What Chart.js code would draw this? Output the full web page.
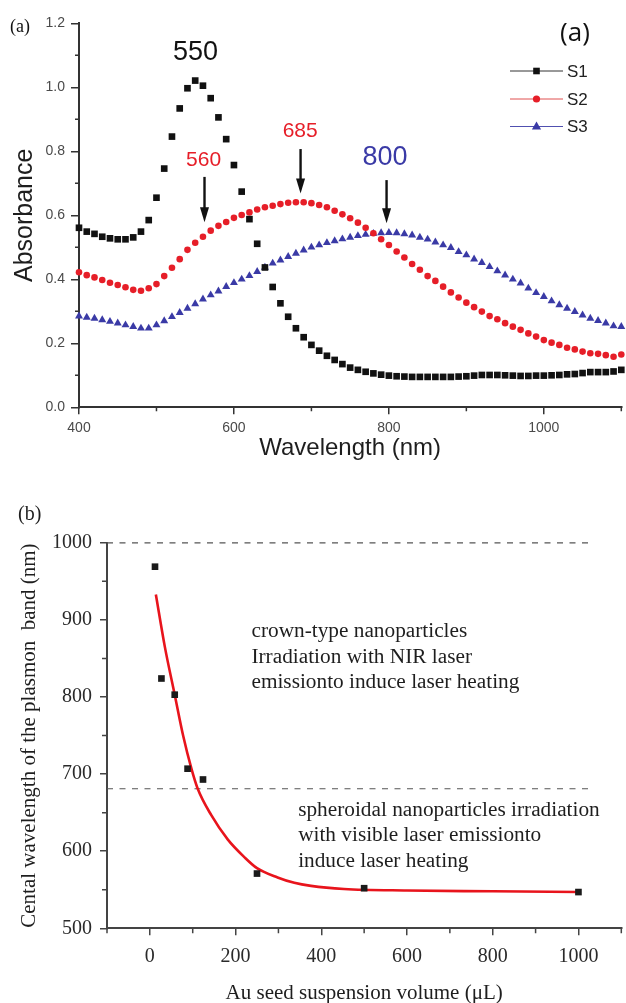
<!DOCTYPE html>
<html>
<head>
<meta charset="utf-8">
<script src="https://cdn.jsdelivr.net/npm/chart.js@4.4.0/dist/chart.umd.min.js"></script>
<style>
html,body{margin:0;padding:0;background:#fff;width:626px;height:1003px;overflow:hidden;position:relative}
canvas{position:absolute;left:0}
#c1{top:0}
#c2{top:475px}
</style>
</head>
<body>
<canvas id="c1" width="626" height="475"></canvas>
<canvas id="c2" width="626" height="545"></canvas>
<script>
// ---------------- Panel (a) data ----------------
const wavelengthNm = [400,410,420,430,440,450,460,470,480,490,500,510,520,530,540,550,560,570,580,590,600,610,620,630,640,650,660,670,680,690,700,710,720,730,740,750,760,770,780,790,800,810,820,830,840,850,860,870,880,890,900,910,920,930,940,950,960,970,980,990,1000,1010,1020,1030,1040,1050,1060,1070,1080,1090,1100];
const absorbanceS1 = [0.561,0.549,0.542,0.533,0.528,0.525,0.525,0.531,0.549,0.585,0.655,0.746,0.846,0.934,0.997,1.021,1.005,0.966,0.906,0.838,0.757,0.674,0.588,0.511,0.437,0.376,0.325,0.283,0.247,0.219,0.195,0.177,0.161,0.148,0.135,0.124,0.117,0.111,0.106,0.102,0.099,0.097,0.096,0.095,0.095,0.095,0.095,0.095,0.095,0.096,0.097,0.099,0.101,0.101,0.101,0.100,0.099,0.098,0.098,0.099,0.099,0.100,0.101,0.103,0.104,0.107,0.110,0.110,0.110,0.112,0.117];
const absorbanceS2 = [0.422,0.413,0.406,0.398,0.389,0.382,0.375,0.367,0.364,0.372,0.385,0.410,0.436,0.463,0.492,0.514,0.533,0.552,0.567,0.579,0.592,0.601,0.609,0.618,0.625,0.630,0.635,0.639,0.641,0.641,0.638,0.632,0.625,0.614,0.603,0.591,0.577,0.561,0.544,0.525,0.507,0.487,0.468,0.448,0.430,0.410,0.395,0.377,0.359,0.343,0.327,0.313,0.299,0.285,0.275,0.263,0.252,0.242,0.231,0.221,0.210,0.202,0.195,0.186,0.181,0.174,0.169,0.167,0.163,0.158,0.165];
const absorbanceS3 = [0.285,0.281,0.278,0.273,0.268,0.263,0.257,0.252,0.247,0.247,0.257,0.270,0.283,0.296,0.309,0.323,0.338,0.351,0.363,0.377,0.389,0.400,0.411,0.424,0.437,0.450,0.460,0.471,0.481,0.491,0.500,0.507,0.514,0.520,0.526,0.531,0.536,0.540,0.543,0.545,0.546,0.545,0.542,0.538,0.531,0.525,0.516,0.507,0.499,0.486,0.476,0.463,0.452,0.439,0.426,0.413,0.400,0.388,0.372,0.358,0.346,0.332,0.320,0.309,0.299,0.288,0.278,0.271,0.263,0.254,0.252];
const seriesNames = ['S1','S2','S3'];
const peakWavelengths = ['550','560','685','800'];
const absYTicks = [0,0.2,0.4,0.6,0.8,1.0,1.2];
const absYMinor = [0.1,0.3,0.5,0.7,0.9,1.1];
const wlXTicks = [400,600,800,1000];
const wlXMinor = [500,700,900,1100];

// ---------------- Panel (b) data ----------------
const seedVolume = [12,27,58,88,124,250,500,1000];
const plasmonWl = [969,824,803,707,693,571,552,547];
const fitVolume = [14,35,58,78,97,111,143,182,221,250,298,337,376,453,600,800,1000];
const fitWl = [933,865,803,749,707,682,647,615,592,578,566,559,555,551,549,548,547];
const volXTicks = [0,200,400,600,800,1000];
const volXMinor = [-100,100,300,500,700,900,1100];
const wlYTicks = [500,600,700,800,900,1000];
const wlYMinor = [550,650,750,850,950];
const regionBoundaries = [1000,681];
const boundaryVolRange = [-100,1027];
const regionTexts = [
  ['crown-type nanoparticles','Irradiation with NIR laser','emissionto induce laser heating'],
  ['spheroidal nanoparticles irradiation','with visible laser emissionto','induce laser heating']
];

Chart.defaults.animation = false;
Chart.defaults.font.family = '"Liberation Sans", Arial, sans-serif';

const SANS = '"Liberation Sans", Arial, sans-serif';
const SERIF = '"Liberation Serif", "Times New Roman", serif';
const RED = '#e61e28';
const BLUE = '#3a3aa6';

function minorTickPlugin(id){
  return {
    id: id,
    afterDraw(chart, args, opts){
      const ctx = chart.ctx, xs = chart.scales.x, ys = chart.scales.y;
      ctx.save();
      ctx.strokeStyle = opts.color; ctx.lineWidth = opts.width;
      ctx.beginPath();
      opts.x.forEach(v => { const px = xs.getPixelForValue(v); ctx.moveTo(px, xs.top); ctx.lineTo(px, xs.top + opts.len); });
      opts.y.forEach(v => { const py = ys.getPixelForValue(v); ctx.moveTo(ys.right, py); ctx.lineTo(ys.right - opts.len, py); });
      ctx.stroke();
      ctx.restore();
    }
  };
}

// ---------- Panel (a) annotations ----------
const annotA = {
  id: 'annotA',
  afterDraw(chart){
    const ctx = chart.ctx, xs = chart.scales.x, ys = chart.scales.y;
    ctx.save();
    ctx.fillStyle = '#111';
    ctx.font = '18px ' + SERIF; ctx.textAlign = 'left'; ctx.textBaseline = 'middle';
    ctx.fillText('(a)', 10, 27);
    ctx.font = '26px "Open Sans", ' + SANS; ctx.textAlign = 'center';
    ctx.fillText('(a)', 575, 34);
    const notes = [
      {t: peakWavelengths[0], x: 550.5, y: 1.11, c: '#111', s: 27},
      {t: peakWavelengths[1], x: 560.8, y: 0.773, c: RED, s: 21},
      {t: peakWavelengths[2], x: 685.5, y: 0.864, c: RED, s: 21},
      {t: peakWavelengths[3], x: 795, y: 0.779, c: BLUE, s: 27}
    ];
    notes.forEach(n => {
      ctx.fillStyle = n.c; ctx.font = n.s + 'px ' + SANS;
      ctx.textAlign = 'center'; ctx.textBaseline = 'middle';
      ctx.fillText(n.t, xs.getPixelForValue(n.x), ys.getPixelForValue(n.y));
    });
    const arrows = [{x: 562, y0: 0.72, y1: 0.578}, {x: 686, y0: 0.807, y1: 0.668}, {x: 797, y0: 0.71, y1: 0.575}];
    ctx.strokeStyle = '#111'; ctx.fillStyle = '#111'; ctx.lineWidth = 2.4;
    arrows.forEach(a => {
      const px = xs.getPixelForValue(a.x), p0 = ys.getPixelForValue(a.y0), p1 = ys.getPixelForValue(a.y1);
      ctx.beginPath(); ctx.moveTo(px, p0); ctx.lineTo(px, p1 - 10); ctx.stroke();
      ctx.beginPath(); ctx.moveTo(px, p1); ctx.lineTo(px - 4.5, p1 - 15); ctx.lineTo(px + 4.5, p1 - 15); ctx.closePath(); ctx.fill();
    });
    const rows = [
      {name: seriesNames[0], line: '#333', fill: '#111', shape: 'rect'},
      {name: seriesNames[1], line: '#e05050', fill: RED, shape: 'circle'},
      {name: seriesNames[2], line: '#5050b0', fill: BLUE, shape: 'tri'}
    ];
    const ly = [71, 99, 126.5];
    rows.forEach((r, i) => {
      const y = ly[i];
      ctx.strokeStyle = r.line; ctx.lineWidth = 1;
      ctx.beginPath(); ctx.moveTo(510, y); ctx.lineTo(563, y); ctx.stroke();
      ctx.fillStyle = r.fill;
      const cx = 536.5;
      if (r.shape === 'rect') ctx.fillRect(cx - 3.3, y - 3.3, 6.6, 6.6);
      else if (r.shape === 'circle') { ctx.beginPath(); ctx.arc(cx, y, 3.6, 0, Math.PI * 2); ctx.fill(); }
      else { ctx.beginPath(); ctx.moveTo(cx, y - 5); ctx.lineTo(cx + 4.6, y + 3); ctx.lineTo(cx - 4.6, y + 3); ctx.closePath(); ctx.fill(); }
      ctx.fillStyle = '#222'; ctx.font = '17px ' + SANS; ctx.textAlign = 'left'; ctx.textBaseline = 'middle';
      ctx.fillText(r.name, 567, y + 1);
    });
    ctx.restore();
  }
};

const toPts = (xs, ys) => xs.map((x, i) => ({x: x, y: ys[i]}));

new Chart(document.getElementById('c1'), {
  type: 'scatter',
  data: {
    datasets: [
      {label: seriesNames[0], data: toPts(wavelengthNm, absorbanceS1), pointStyle: 'rect', pointRadius: 4.7, backgroundColor: '#111', borderColor: '#111', borderWidth: 0, clip: false},
      {label: seriesNames[1], data: toPts(wavelengthNm, absorbanceS2), pointStyle: 'circle', pointRadius: 3.3, backgroundColor: RED, borderColor: RED, borderWidth: 0, clip: false},
      {label: seriesNames[2], data: toPts(wavelengthNm, absorbanceS3), pointStyle: 'triangle', pointRadius: 4.6, backgroundColor: BLUE, borderColor: BLUE, borderWidth: 0, clip: false}
    ]
  },
  options: {
    responsive: false,
    devicePixelRatio: 1,
    layout: {padding: {top: 23.3, right: 3, left: 0, bottom: 0}},
    plugins: {legend: {display: false}, tooltip: {enabled: false},
      minorA: {x: wlXMinor, y: absYMinor, len: 4, color: '#333', width: 1.5}},
    scales: {
      x: {
        type: 'linear', min: 400, max: 1100,
        afterBuildTicks: s => { s.ticks = wlXTicks.map(v => ({value: v})); },
        afterFit: s => { s.height = 67.7; },
        grid: {drawOnChartArea: false, drawTicks: true, tickLength: 7, color: '#333', lineWidth: 1.5},
        border: {display: true, color: '#333', width: 2},
        ticks: {color: '#4a4a4a', font: {size: 14, family: SANS}, padding: 5, maxRotation: 0, callback: v => String(v)},
        title: {display: true, text: 'Wavelength (nm)', color: '#1e1e1e', font: {size: 24, family: SANS}, padding: {bottom: 12, top: 0}}
      },
      y: {
        min: 0, max: 1.2,
        afterBuildTicks: s => { s.ticks = absYTicks.map(v => ({value: v})); },
        afterFit: s => { s.width = 79; },
        grid: {drawOnChartArea: false, drawTicks: true, tickLength: 8, color: '#333', lineWidth: 1.5},
        border: {display: true, color: '#333', width: 2},
        ticks: {color: '#4a4a4a', font: {size: 14, family: SANS}, padding: 6, callback: v => Number(v).toFixed(1)},
        title: {display: true, text: 'Absorbance', color: '#1e1e1e', font: {size: 25, family: SANS}, padding: {top: 10, bottom: 0}}
      }
    }
  },
  plugins: [minorTickPlugin('minorA'), annotA]
});

// ---------- Panel (b) ----------
const annotB = {
  id: 'annotB',
  afterDraw(chart){
    const ctx = chart.ctx, xs = chart.scales.x, ys = chart.scales.y;
    ctx.save();
    ctx.fillStyle = '#1e1e1e';
    ctx.font = '20px ' + SERIF; ctx.textAlign = 'left'; ctx.textBaseline = 'middle';
    ctx.fillText('(b)', 18, 40);
    ctx.font = '21.3px ' + SERIF; ctx.textBaseline = 'alphabetic';
    const anchors = [{x: 237, y: 877.5}, {x: 346, y: 646}];
    regionTexts.forEach((lines, k) => {
      const px = xs.getPixelForValue(anchors[k].x), py = ys.getPixelForValue(anchors[k].y);
      lines.forEach((t, i) => ctx.fillText(t, px, py + i * 25.5));
    });
    ctx.restore();
  }
};

new Chart(document.getElementById('c2'), {
  type: 'scatter',
  data: {
    datasets: [
      {label: 'data', data: toPts(seedVolume, plasmonWl), pointStyle: 'rect', pointRadius: 4.7, backgroundColor: '#1a1a1a', borderColor: '#1a1a1a', borderWidth: 0, clip: false},
      {label: 'fit', data: toPts(fitVolume, fitWl), showLine: true, pointRadius: 0, borderColor: '#e8141c', borderWidth: 2.6, cubicInterpolationMode: 'monotone', clip: false},
      {label: 'b1', data: boundaryVolRange.map(x => ({x: x, y: regionBoundaries[0]})), showLine: true, pointRadius: 0, borderColor: '#555', borderWidth: 1.2, borderDash: [6, 6.5], clip: false},
      {label: 'b2', data: boundaryVolRange.map(x => ({x: x, y: regionBoundaries[1]})), showLine: true, pointRadius: 0, borderColor: '#555', borderWidth: 1.2, borderDash: [6, 6.5], clip: false}
    ]
  },
  options: {
    responsive: false,
    devicePixelRatio: 1,
    layout: {padding: {top: 67.8, right: 2, left: 0, bottom: 0}},
    plugins: {legend: {display: false}, tooltip: {enabled: false},
      minorB: {x: volXMinor, y: wlYMinor, len: 5, color: '#444', width: 1.5}},
    scales: {
      x: {
        type: 'linear', min: -100, max: 1100,
        afterBuildTicks: s => { s.ticks = volXTicks.map(v => ({value: v})); },
        afterFit: s => { s.height = 91.7; },
        grid: {drawOnChartArea: false, drawTicks: true, tickLength: 7, color: '#444', lineWidth: 1.5},
        border: {display: true, color: '#444', width: 2},
        ticks: {color: '#2a2a2a', font: {size: 20, family: SERIF}, padding: 9, maxRotation: 0, callback: v => String(v)},
        title: {display: true, text: 'Au seed suspension volume (μL)', color: '#1e1e1e', font: {size: 21, family: SERIF}, padding: {bottom: 14.4, top: 0}}
      },
      y: {
        min: 500, max: 1000,
        afterBuildTicks: s => { s.ticks = wlYTicks.map(v => ({value: v})); },
        afterFit: s => { s.width = 107; },
        grid: {drawOnChartArea: false, drawTicks: true, tickLength: 7, color: '#444', lineWidth: 1.5},
        border: {display: true, color: '#444', width: 2},
        ticks: {color: '#2a2a2a', font: {size: 20, family: SERIF}, padding: 8, callback: v => String(v)},
        title: {display: true, text: 'Cental wavelength of the plasmon  band (nm)', color: '#1e1e1e', font: {size: 21, family: SERIF}, padding: {top: 16.4, bottom: 0}}
      }
    }
  },
  plugins: [minorTickPlugin('minorB'), annotB]
});
</script>
</body>
</html>
